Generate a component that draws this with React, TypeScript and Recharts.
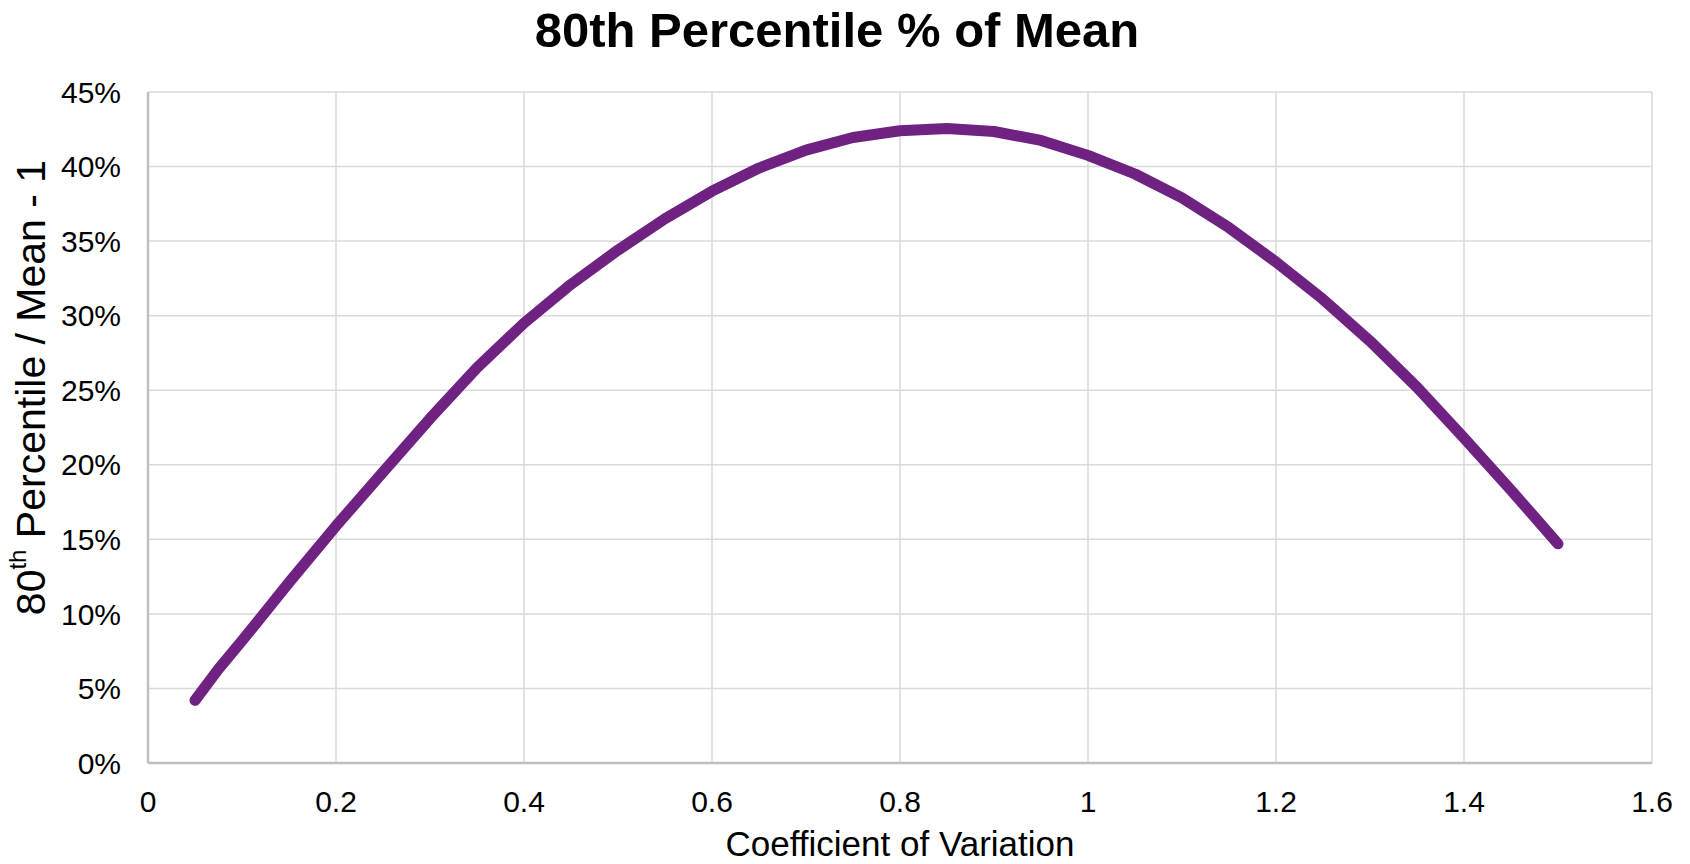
import { LineChart, Line, XAxis, YAxis, CartesianGrid } from 'recharts';

// coefficient of variation (x) and 80th pct / mean - 1, in percent (y)
const cvValues = [
  0.05, 0.075, 0.1, 0.15, 0.2, 0.25, 0.3, 0.35, 0.4, 0.45, 0.5, 0.55, 0.6, 0.65, 0.7, 0.75,
  0.8, 0.85, 0.9, 0.95, 1.0, 1.05, 1.1, 1.15, 1.2, 1.25, 1.3, 1.35, 1.4, 1.45, 1.5,
];
const pctOverMean = [
  4.2, 6.3, 8.2, 12.1, 15.9, 19.5, 23.1, 26.5, 29.5, 32.1, 34.4, 36.5, 38.35, 39.9, 41.1, 41.95,
  42.4, 42.55, 42.35, 41.75, 40.75, 39.5, 37.9, 35.9, 33.6, 31.1, 28.3, 25.2, 21.8, 18.3, 14.7,
];
const xTicks = [0, 0.2, 0.4, 0.6, 0.8, 1, 1.2, 1.4, 1.6];
const yTicks = [0, 5, 10, 15, 20, 25, 30, 35, 40, 45];

const data = cvValues.map((cv, i) => ({ cv, pct: pctOverMean[i] }));

const FONT = '"Liberation Sans", Arial, sans-serif';
const gridColor = '#d9d9d9';
const axisColor = '#bfbfbf';
const lineColor = '#6f2282';

function YLabel(props: any) {
  const vb = props.viewBox || {};
  const cx = 31;
  const cy = vb.y + vb.height / 2 - 40;
  return (
    <text
      x={cx}
      y={cy}
      transform={`rotate(-90, ${cx}, ${cy})`}
      textAnchor="middle"
      dominantBaseline="central"
      fontFamily={FONT}
      fontSize={41}
      fill="#000"
    >
      <tspan>80</tspan>
      <tspan fontSize={24} dy={-14}>th</tspan>
      <tspan dy={14}> Percentile / Mean - 1</tspan>
    </text>
  );
}

export default function App() {
  return (
    <div style={{ position: 'relative', width: 1690, height: 864, background: '#fff' }}>
      <style>{`body { margin: 0; }`}</style>
      <div
        style={{
          position: 'absolute',
          top: 6,
          left: 0,
          width: 1674,
          textAlign: 'center',
          fontFamily: FONT,
          fontWeight: 'bold',
          fontSize: 49,
          lineHeight: '49px',
          color: '#000',
        }}
      >
        80th Percentile % of Mean
      </div>
      <LineChart width={1690} height={864} data={data} margin={{ top: 92, right: 38, bottom: 0, left: 0 }}>
        <CartesianGrid stroke={gridColor} strokeWidth={1.5} horizontalValues={yTicks} verticalValues={xTicks} />
        <XAxis
          dataKey="cv"
          type="number"
          domain={[0, 1.6]}
          ticks={xTicks}
          height={101}
          tickLine={false}
          tickSize={0}
          tickMargin={28}
          axisLine={{ stroke: axisColor, strokeWidth: 2.5 }}
          tick={{ fill: '#000', fontSize: 30, fontFamily: FONT }}
          label={{
            value: 'Coefficient of Variation',
            position: 'insideBottom',
            offset: 8,
            fill: '#000',
            fontSize: 35,
            fontFamily: FONT,
          }}
        />
        <YAxis
          type="number"
          domain={[0, 45]}
          ticks={yTicks}
          width={148}
          tickLine={false}
          tickSize={0}
          tickMargin={27}
          axisLine={{ stroke: axisColor, strokeWidth: 2.5 }}
          tickFormatter={(v: number) => `${v}%`}
          tick={{ fill: '#000', fontSize: 30, fontFamily: FONT }}
          label={<YLabel />}
        />
        <Line
          type="linear"
          dataKey="pct"
          stroke={lineColor}
          strokeWidth={11}
          strokeLinecap="round"
          strokeLinejoin="round"
          dot={false}
          isAnimationActive={false}
        />
      </LineChart>
    </div>
  );
}
